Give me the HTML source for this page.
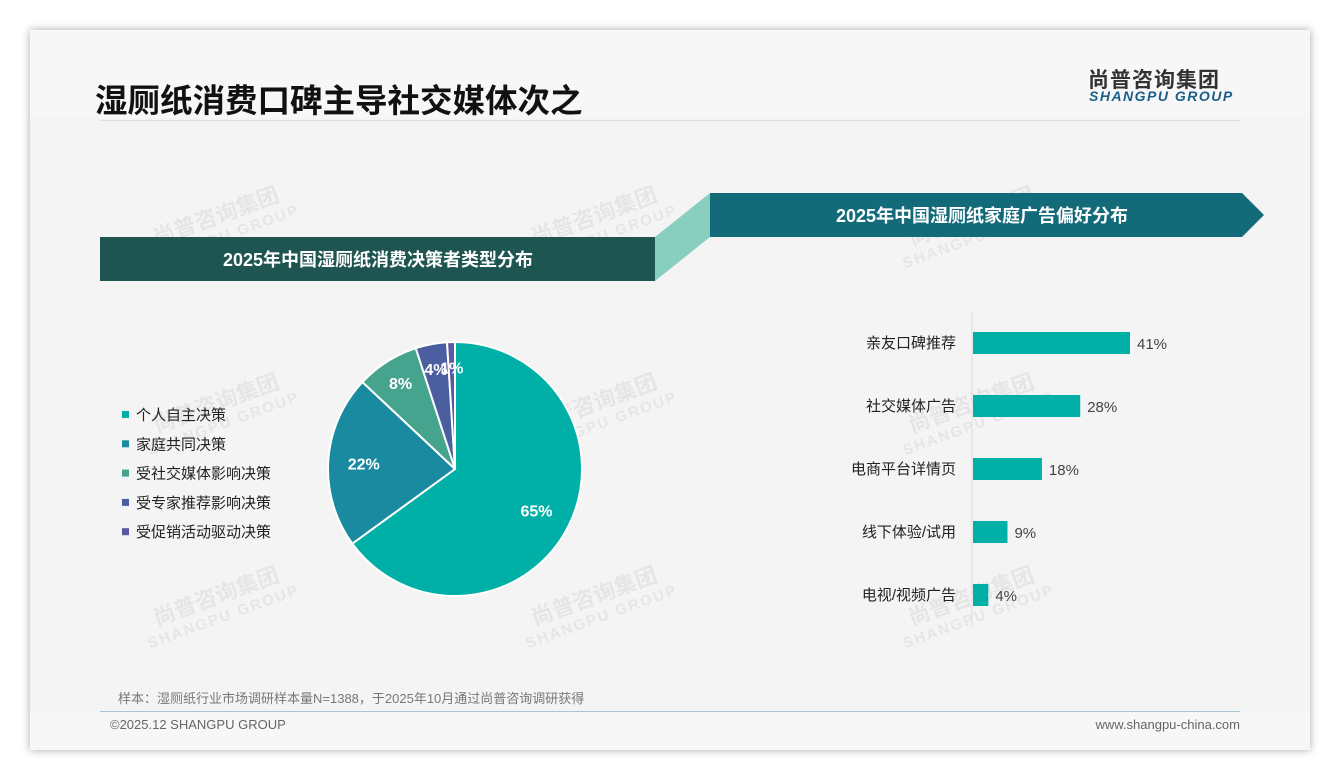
<!DOCTYPE html>
<html><head><meta charset="utf-8"><style>
body{margin:0;width:1340px;height:780px;background:#fff;font-family:"Liberation Sans","Noto Sans CJK SC",sans-serif;position:relative;overflow:hidden}
.card{position:absolute;left:30px;top:30px;width:1280px;height:720px;background:#f4f4f4;box-shadow:0 0 8px rgba(0,0,0,.35)}
.abs{position:absolute}
.wm{position:absolute;color:rgba(0,0,0,.06);font-weight:bold;transform:rotate(-20deg);font-size:22px;line-height:22px;text-align:center}
.wm span{display:block;font-size:15px;letter-spacing:2px}
</style></head><body>
<div class="card">
 <div class="abs" style="left:0;top:0;width:1280px;height:88px;background:#f7f7f7"></div>
 <div class="abs" style="left:0;top:682px;width:1280px;height:38px;background:#f7f7f7"></div>
</div>
<div class="wm" style="left:140px;top:205px">尚普咨询集团<span>SHANGPU GROUP</span></div>
<div class="wm" style="left:518px;top:205px">尚普咨询集团<span>SHANGPU GROUP</span></div>
<div class="wm" style="left:895px;top:205px">尚普咨询集团<span>SHANGPU GROUP</span></div>
<div class="wm" style="left:140px;top:392px">尚普咨询集团<span>SHANGPU GROUP</span></div>
<div class="wm" style="left:518px;top:392px">尚普咨询集团<span>SHANGPU GROUP</span></div>
<div class="wm" style="left:895px;top:392px">尚普咨询集团<span>SHANGPU GROUP</span></div>
<div class="wm" style="left:140px;top:585px">尚普咨询集团<span>SHANGPU GROUP</span></div>
<div class="wm" style="left:518px;top:585px">尚普咨询集团<span>SHANGPU GROUP</span></div>
<div class="wm" style="left:895px;top:585px">尚普咨询集团<span>SHANGPU GROUP</span></div>

<div class="abs" style="left:95px;top:75px;font-size:32.5px;font-weight:bold;color:#111">湿厕纸消费口碑主导社交媒体次之</div>
<div class="abs" style="left:100px;top:120px;width:1140px;height:1px;background:#ddd"></div>
<div class="abs" style="left:1088px;top:64px;font-size:21px;font-weight:bold;color:#333;letter-spacing:1px">尚普咨询集团</div>
<div class="abs" style="left:1089px;top:88px;font-size:14px;font-weight:bold;font-style:italic;color:#1a5f8a;letter-spacing:1.5px">SHANGPU GROUP</div>

<svg class="abs" style="left:0;top:0" width="1340" height="780">
 <polygon points="655,237 710,193 710,237 655,281" fill="#88cfc0"/>
 <rect x="100" y="237" width="555" height="44" fill="#1f5550"/>
 <polygon points="710,193 1242,193 1264,215 1242,237 710,237" fill="#136b7a"/>
 <text x="378" y="266" text-anchor="middle" fill="#fff" font-size="18" font-weight="bold" font-family="Liberation Sans,Noto Sans CJK SC,sans-serif">2025年中国湿厕纸消费决策者类型分布</text>
 <text x="982" y="222" text-anchor="middle" fill="#fff" font-size="18" font-weight="bold" font-family="Liberation Sans,Noto Sans CJK SC,sans-serif">2025年中国湿厕纸家庭广告偏好分布</text>
</svg>

<svg id="pie" class="abs" style="left:0;top:0" width="1340" height="780"></svg>
<svg id="bar" class="abs" style="left:0;top:0" width="1340" height="780"></svg>

<div class="abs" style="left:118px;top:688px;font-size:13px;color:#777">样本：湿厕纸行业市场调研样本量N=1388，于2025年10月通过尚普咨询调研获得</div>
<div class="abs" style="left:100px;top:711px;width:1140px;height:1px;background:#a9c6d8"></div>
<div class="abs" style="left:110px;top:717px;font-size:13px;color:#666">©2025.12 SHANGPU GROUP</div>
<div class="abs" style="right:100px;top:717px;font-size:13px;color:#666">www.shangpu-china.com</div>

<script>
const pieLabels=["个人自主决策","家庭共同决策","受社交媒体影响决策","受专家推荐影响决策","受促销活动驱动决策"];
const pieValues=[65,22,8,4,1];
const pieColors=["#00b0a6","#1a8aa0","#45a38e","#4b5fa0","#5a58a0"];
const barCats=["亲友口碑推荐","社交媒体广告","电商平台详情页","线下体验/试用","电视/视频广告"];
const barValues=[41,28,18,9,4];
const NS="http://www.w3.org/2000/svg";
function mk(p,t,a){const e=document.createElementNS(NS,t);for(const k in a)e.setAttribute(k,a[k]);p.appendChild(e);return e;}
const pie=document.getElementById('pie');
const cx=455,cy=469,R=127;
const total=pieValues.reduce((a,b)=>a+b,0);
let ang=0;
pieValues.forEach((v,i)=>{
 const a0=ang,a1=ang+v/total*2*Math.PI;ang=a1;
 const p=t=>[cx+R*Math.sin(t),cy-R*Math.cos(t)];
 const [x0,y0]=p(a0),[x1,y1]=p(a1);
 const s=mk(pie,'path',{d:`M${cx},${cy}L${x0},${y0}A${R},${R} 0 ${a1-a0>Math.PI?1:0} 1 ${x1},${y1}Z`,fill:pieColors[i],stroke:'#fff','stroke-width':2});
 
 
 const m=(a0+a1)/2,r=v<10?R*0.8:R*0.72;
 const t=mk(pie,'text',{x:cx+r*Math.sin(m),y:cy-r*Math.cos(m)+6,'text-anchor':'middle',fill:'#fff','font-size':16,'font-weight':'bold','font-family':'Liberation Sans,sans-serif'});
 t.textContent=v+'%';
 
 
 const ly=415+i*29.3;
 const sq=mk(pie,'rect',{x:122,y:ly-4,width:7,height:7,fill:pieColors[i]});
 
 
 const lt=mk(pie,'text',{x:136,y:ly+5,fill:'#222','font-size':15,'font-family':'Liberation Sans,Noto Sans CJK SC,sans-serif'});
 lt.textContent=pieLabels[i];
 
 
});
const bar=document.getElementById('bar');
const x0=972,scale=157/41,y0b=343,step=63,bh=22;
const ax=mk(bar,'line',{x1:x0,y1:312,x2:x0,y2:626,stroke:'#ddd','stroke-width':1});


barCats.forEach((c,i)=>{
 const y=y0b+i*step,w=barValues[i]*scale;
 const r=mk(bar,'rect',{x:x0+1,y:y-bh/2,width:w,height:bh,fill:'#00b0a6'});
 
 
 const l=mk(bar,'text',{x:956,y:y+5,'text-anchor':'end',fill:'#222','font-size':15,'font-family':'Liberation Sans,Noto Sans CJK SC,sans-serif'});
 l.textContent=c;
 
 
 const v=mk(bar,'text',{x:x0+w+8,y:y+6,fill:'#444','font-size':15,'font-family':'Liberation Sans,sans-serif'});
 v.textContent=barValues[i]+'%';
 
 
});
</script>
</body></html>
